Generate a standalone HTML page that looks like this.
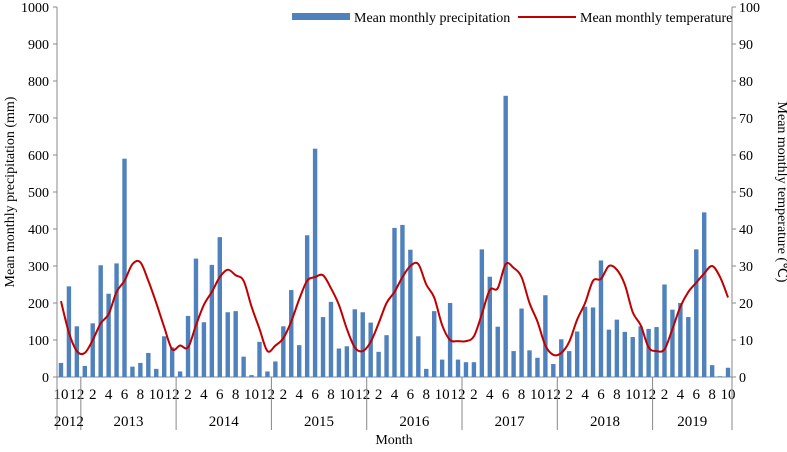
<!DOCTYPE html>
<html><head><meta charset="utf-8"><style>
body{margin:0;background:#fff}
svg text{font-family:"Liberation Serif",serif;fill:#000}
</style></head><body>
<svg id="chart" width="787" height="447" xmlns="http://www.w3.org/2000/svg"></svg>
<script>
const years=[2012,2013,2014,2015,2016,2017,2018,2019];
const months=[10,11,12,1,2,3,4,5,6,7,8,9,10,11,12,1,2,3,4,5,6,7,8,9,10,11,12,1,2,3,4,5,6,7,8,9,10,11,12,1,2,3,4,5,6,7,8,9,10,11,12,1,2,3,4,5,6,7,8,9,10,11,12,1,2,3,4,5,6,7,8,9,10,11,12,1,2,3,4,5,6,7,8,9,10];
const precipitation=[38,245,137, 30,145,302,225,307,590,28,38,65,22,110,80, 15,165,320,148,303,378,175,178,55,5,95,15, 42,137,235,86,383,617,162,203,77,83,183,175, 147,68,113,403,411,344,110,22,178,47,200,47, 40,40,345,271,136,760,70,185,72,52,221,35, 102,70,123,190,188,315,128,155,122,108,137,130, 135,250,182,200,162,345,445,32,2,25];
const temperature=[20.5,12,7, 6.5,10,14.5,17,23,26,30.5,31,26,20,13.5,7.5, 8.5,8,14,19.5,23,27,29,27.5,26,19,13,7, 8.5,10.5,15,21,26,27,27.5,24,19.5,13,8,7, 9.5,14.5,20,23,27,30,30.5,25,21.5,14,10,9.7, 9.7,11,17,23.5,24,30.5,29.5,27,20,15,8.5,6, 6.5,9.5,15.5,20,26,26.5,30,29,25,17.5,14,8, 7,7.5,13,19,23,25.5,28,30,27,21.5];
const leftTicks=[0,100,200,300,400,500,600,700,800,900,1000];
const rightTicks=[0,10,20,30,40,50,60,70,80,90,100];

const svg=document.getElementById('chart');
const NS='http://www.w3.org/2000/svg';
const X0=57,X1=732,Y0=377,Y1=7,N=months.length,bw=(X1-X0)/N;
const xc=i=>X0+bw*(i+0.5);
const yL=v=>Y0-(v/1000)*(Y0-Y1);
const yR=v=>Y0-(v/100)*(Y0-Y1);
function mk(tag,attrs,txt){const e=document.createElementNS(NS,tag);for(const k in attrs)e.setAttribute(k,attrs[k]);if(txt!==undefined)e.textContent=txt;svg.appendChild(e);return e;}

// axes
let e=mk('line',{x1:X0,y1:Y1,x2:X0,y2:Y0,stroke:'#888'});


e=mk('line',{x1:X1,y1:Y1,x2:X1,y2:Y0,stroke:'#888'});


e=mk('line',{x1:X0,y1:Y0,x2:X1,y2:Y0,stroke:'#888'});


leftTicks.forEach(t=>{
  mk('line',{x1:X0-4,y1:yL(t),x2:X0,y2:yL(t),stroke:'#888'});
  e=mk('text',{x:X0-8,y:yL(t)+5,'text-anchor':'end','font-size':14},t);
  
  
});
rightTicks.forEach(t=>{
  mk('line',{x1:X1,y1:yR(t),x2:X1+4,y2:yR(t),stroke:'#888'});
  e=mk('text',{x:X1+7,y:yR(t)+5,'text-anchor':'start','font-size':14},t);
  
  
});
// bars
precipitation.forEach((v,i)=>{
  e=mk('rect',{x:xc(i)-2.2,y:yL(v),width:4.4,height:Y0-yL(v),fill:'#4F81BD'});
  
  
});
// temp line (catmull-rom)
const pts=temperature.map((v,i)=>[xc(i),yR(v)]);
let d='M'+pts[0][0]+','+pts[0][1];
for(let i=0;i<pts.length-1;i++){
  const p0=pts[Math.max(0,i-1)],p1=pts[i],p2=pts[i+1],p3=pts[Math.min(pts.length-1,i+2)];
  const c1=[p1[0]+(p2[0]-p0[0])/6,p1[1]+(p2[1]-p0[1])/6];
  const c2=[p2[0]-(p3[0]-p1[0])/6,p2[1]-(p3[1]-p1[1])/6];
  d+=` C${c1[0]},${c1[1]} ${c2[0]},${c2[1]} ${p2[0]},${p2[1]}`;
}
e=mk('path',{d:d,fill:'none',stroke:'#C00000','stroke-width':2});


// month labels
months.forEach((m,i)=>{
  if(m%2===0){
    e=mk('text',{x:xc(i),y:399,'text-anchor':'middle','font-size':15},m);
    
    
  }
});
// year separators & labels
let start=0;
const bounds=[];
months.forEach((m,i)=>{if(m===1)bounds.push(i);});
const edges=[0,...bounds,N];
edges.forEach(b=>{mk('line',{x1:X0+bw*b,y1:Y0,x2:X0+bw*b,y2:430,stroke:'#888'});});
years.forEach((y,k)=>{
  const a=edges[k],b=edges[k+1];
  e=mk('text',{x:X0+bw*(a+b)/2,y:426,'text-anchor':'middle','font-size':15},y);
  
  
});
e=mk('text',{x:394,y:444,'text-anchor':'middle','font-size':14},'Month');


e=mk('text',{x:0,y:0,'text-anchor':'middle','font-size':14,transform:'translate(14,192) rotate(-90)'},'Mean monthly precipitation (mm)');


e=mk('text',{x:0,y:0,'text-anchor':'middle','font-size':14,transform:'translate(778,192) rotate(90)'},'Mean monthly temperature (℃)');


// legend
e=mk('rect',{x:292,y:13,width:58,height:7,fill:'#4F81BD'});


e=mk('text',{x:354,y:22,'font-size':14},'Mean monthly precipitation');


e=mk('line',{x1:518,y1:17,x2:576,y2:17,stroke:'#C00000','stroke-width':2});


e=mk('text',{x:580,y:22,'font-size':14},'Mean monthly temperature');


</script>
</body></html>
